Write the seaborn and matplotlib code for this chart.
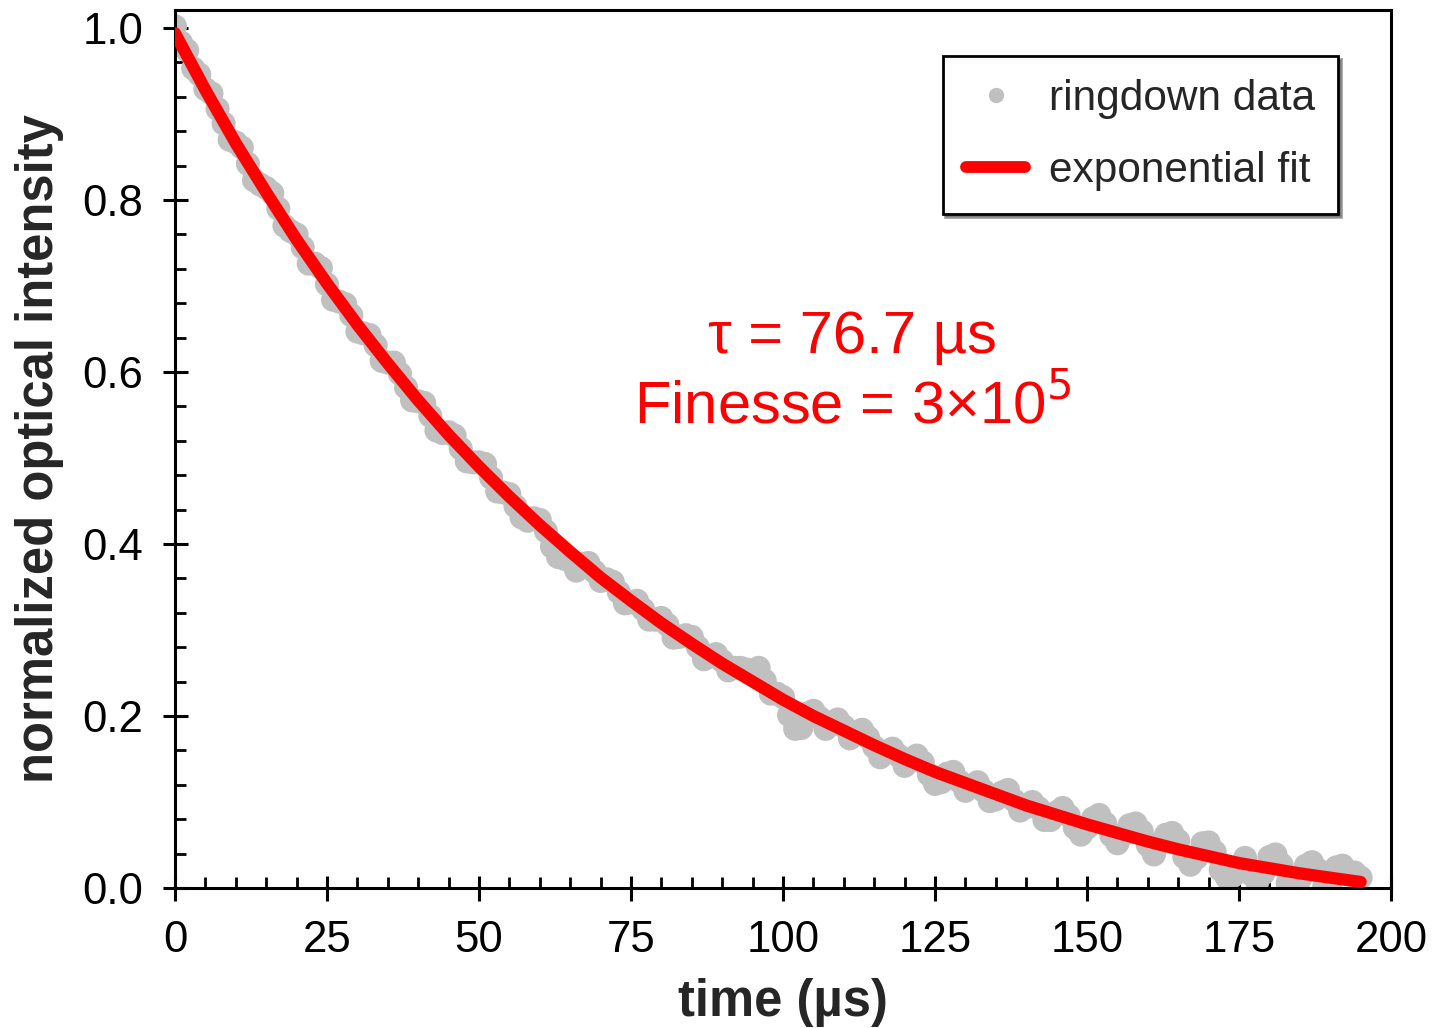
import numpy as np
import pandas as pd
import matplotlib
matplotlib.use("Agg")
import matplotlib.pyplot as plt
from matplotlib.ticker import MultipleLocator
from matplotlib.lines import Line2D
import seaborn as sns

# ---- data ----
time_data = list(range(0, 196))  # µs, 1 µs steps
ringdown = [
    1.002, 0.983, 0.974, 0.953, 0.946, 0.929, 0.924, 0.906, 0.889, 0.870,
    0.867, 0.861, 0.842, 0.823, 0.818, 0.814, 0.808, 0.790, 0.770, 0.764,
    0.760, 0.745, 0.726, 0.726, 0.721, 0.702, 0.684, 0.682, 0.679, 0.666,
    0.647, 0.645, 0.643, 0.631, 0.613, 0.611, 0.611, 0.598, 0.582, 0.567,
    0.566, 0.564, 0.549, 0.532, 0.529, 0.530, 0.526, 0.511, 0.496, 0.495,
    0.495, 0.493, 0.477, 0.461, 0.460, 0.458, 0.444, 0.431, 0.427, 0.430,
    0.428, 0.415, 0.397, 0.385, 0.383, 0.380, 0.369, 0.377, 0.378, 0.368,
    0.357, 0.359, 0.356, 0.344, 0.331, 0.332, 0.334, 0.324, 0.312, 0.312,
    0.314, 0.306, 0.291, 0.292, 0.294, 0.292, 0.280, 0.266, 0.269, 0.272,
    0.264, 0.253, 0.256, 0.256, 0.254, 0.252, 0.256, 0.241, 0.226, 0.226,
    0.222, 0.201, 0.185, 0.186, 0.203, 0.206, 0.198, 0.185, 0.191, 0.196,
    0.188, 0.174, 0.179, 0.184, 0.175, 0.164, 0.152, 0.158, 0.162, 0.154,
    0.142, 0.148, 0.154, 0.146, 0.132, 0.121, 0.123, 0.133, 0.135, 0.124,
    0.113, 0.118, 0.123, 0.113, 0.101, 0.103, 0.111, 0.114, 0.102, 0.090,
    0.094, 0.100, 0.093, 0.079, 0.079, 0.088, 0.093, 0.084, 0.070, 0.062,
    0.070, 0.081, 0.085, 0.075, 0.061, 0.052, 0.062, 0.073, 0.075, 0.066,
    0.050, 0.039, 0.052, 0.062, 0.064, 0.055, 0.036, 0.027, 0.035, 0.052,
    0.053, 0.042, 0.021, 0.012, 0.014, 0.022, 0.035, 0.016, 0.007, 0.017,
    0.036, 0.039, 0.027, 0.006, 0.001, 0.010, 0.026, 0.030, 0.021, 0.001,
    0.005, 0.024, 0.026, 0.016, 0.018, 0.012,
]
time_fit = list(range(0, 200, 5))  # µs
fit_vals = [
    0.994, 0.928, 0.866, 0.809, 0.754, 0.703, 0.655, 0.610, 0.567, 0.527,
    0.490, 0.455, 0.422, 0.391, 0.361, 0.334, 0.308, 0.284, 0.261, 0.240,
    0.219, 0.200, 0.183, 0.166, 0.150, 0.135, 0.122, 0.109, 0.096, 0.085,
    0.074, 0.064, 0.054, 0.045, 0.037, 0.029, 0.023, 0.017, 0.012, 0.007,
]
x_ticks = [0, 25, 50, 75, 100, 125, 150, 175, 200]
y_ticks = [0.0, 0.2, 0.4, 0.6, 0.8, 1.0]

df_data = pd.DataFrame({"t": time_data, "I": ringdown})
df_fit = pd.DataFrame({"t": time_fit, "I": fit_vals})

sns.set_theme(style="white")
plt.rcParams["font.family"] = ["Liberation Sans", "DejaVu Sans"]

fig = plt.figure(figsize=(14.33, 10.28), dpi=100)
ax = fig.add_axes([0.1221, 0.1362, 0.8486, 0.8541])

GRAY = "#c0c0c0"
RED = "#ff0000"

sns.scatterplot(data=df_data, x="t", y="I", ax=ax, color=GRAY, s=300,
                edgecolor="none", linewidth=0, legend=False, zorder=2)
sns.lineplot(data=df_fit, x="t", y="I", ax=ax, color=RED, linewidth=8.8,
             solid_capstyle="round", legend=False, zorder=3)

ax.set_xlim(0, 200)
ax.set_ylim(0, 1.021)
ax.set_xticks(x_ticks)
ax.set_yticks(y_ticks)
ax.set_xticklabels([str(v) for v in x_ticks])
ax.set_yticklabels([f"{v:.1f}" for v in y_ticks])
ax.xaxis.set_minor_locator(MultipleLocator(5))
ax.yaxis.set_minor_locator(MultipleLocator(0.04))

ax.tick_params(axis="both", which="major", direction="inout", length=18,
               width=2.2, labelsize=31.5, color="black", labelcolor="black",
               bottom=True, left=True, top=False, right=False, pad=14)
ax.tick_params(axis="both", which="minor", direction="in", length=8,
               width=2.0, color="black", bottom=True, left=True,
               top=False, right=False)
for sp in ax.spines.values():
    sp.set_visible(True)
    sp.set_color("black")
    sp.set_linewidth(2.2)

ax.set_xlabel("time (µs)", fontsize=36.5, fontweight="bold")
ax.set_ylabel("normalized optical intensity", fontsize=36.5,
              fontweight="bold")
ax.xaxis.label.set_va("center")
ax.yaxis.label.set_va("center")
ax.xaxis.set_label_coords(0.5, -0.130)
ax.yaxis.set_label_coords(-0.111, 0.5)

ax.text(111.5, 0.64, "τ = 76.7 µs", color=RED, fontsize=43,
        ha="center", va="center")
ax.text(111.5, 0.56, "Finesse = 3×10$^{5}$", color=RED, fontsize=43,
        ha="center", va="center")

handles = [
    Line2D([0], [0], marker="o", color="none", markerfacecolor=GRAY,
           markeredgecolor="none", markersize=11, label="ringdown data"),
    Line2D([0], [0], color=RED, linewidth=8.5, solid_capstyle="round",
           label="exponential fit"),
]
leg = ax.legend(handles=handles, loc="upper right",
                bbox_to_anchor=(0.9564, 0.9476), borderaxespad=0,
                fontsize=30.5, frameon=True, fancybox=False, shadow=True,
                handlelength=1.4, handletextpad=0.55, borderpad=0.55,
                labelspacing=0.75)
leg.get_frame().set_edgecolor("black")
leg.get_frame().set_linewidth(2.0)
leg.get_frame().set_facecolor("white")
leg.get_frame().set_alpha(1)

fig.savefig("out.png", dpi=100)
